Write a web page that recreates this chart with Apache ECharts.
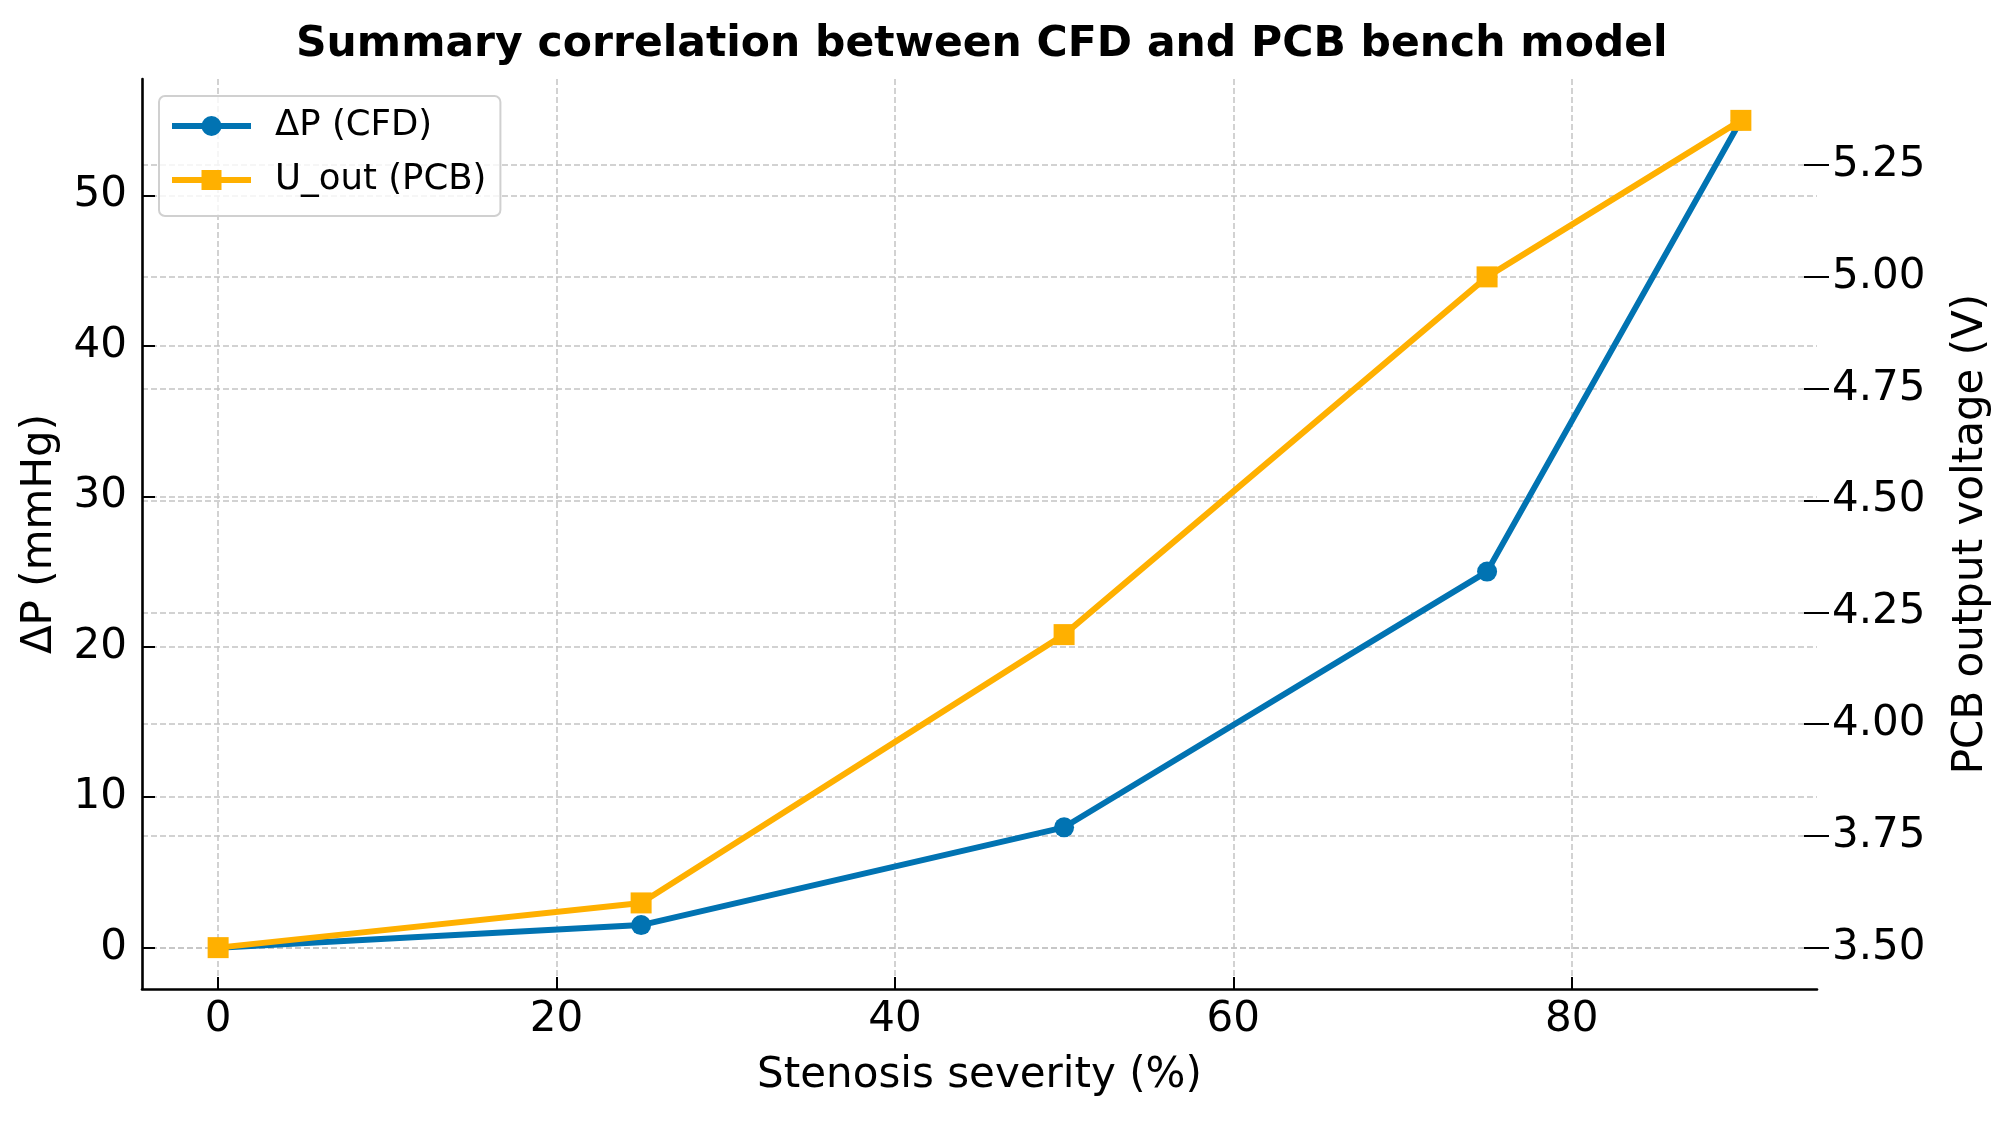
<!DOCTYPE html>
<html>
<head>
<meta charset="utf-8">
<script src="https://cdn.jsdelivr.net/npm/echarts@6/dist/echarts.min.js"></script>
<style>
html, body { margin: 0; padding: 0; background: #ffffff; }
#chart { width: 2002px; height: 1122px; }
</style>
</head>
<body>
<div id="chart"></div>
<script>
// ---- data ----
const stenosis = [0, 25, 50, 75, 90];
const deltaP = [0, 1.5, 8, 25, 55];
const uOut = [3.5, 3.6, 4.2, 5.0, 5.35];
const xTicks = [0, 20, 40, 60, 80];
const leftTicks = [0, 10, 20, 30, 40, 50];
const rightTicks = [3.5, 3.75, 4.0, 4.25, 4.5, 4.75, 5.0, 5.25];
const seriesNames = ['ΔP (CFD)', 'U_out (PCB)'];

const FONT = 'DejaVu Sans';
const BLUE = '#0173B2';
const ORANGE = '#FFB000';
const GRIDC = '#c4c4c4';

function pad(lo, hi) { const m = (hi - lo) * 0.05; return [lo - m, hi + m]; }
const xr = pad(Math.min(...stenosis), Math.max(...stenosis));
const lr = pad(Math.min(...deltaP), Math.max(...deltaP));
const rr = pad(Math.min(...uOut), Math.max(...uOut));

const split = { show: true, lineStyle: { color: GRIDC, width: 1.5, type: [6, 3] } };

const chart = echarts.init(document.getElementById('chart'), null, { renderer: 'canvas' });
chart.setOption({
  animation: false,
  backgroundColor: '#ffffff',
  textStyle: { fontFamily: FONT },
  title: {
    text: 'Summary correlation between CFD and PCB bench model',
    left: 296, top: 24, padding: 0,
    textStyle: { fontFamily: FONT, fontWeight: 'bold', fontSize: 42.5, lineHeight: 42, color: '#000' }
  },
  legend: {
    orient: 'vertical', left: 159, top: 96,
    padding: [10, 14, 16, 10],
    itemWidth: 79, itemHeight: 25, itemGap: 14,
    backgroundColor: 'rgba(255,255,255,0.8)',
    borderColor: '#d0d0d0', borderWidth: 2, borderRadius: 6,
    lineStyle: { width: 6 },
    textStyle: { fontFamily: FONT, fontSize: 35.5, lineHeight: 40, color: '#000', padding: [0, 0, 0, 19] },
    data: seriesNames
  },
  grid: { left: 142, right: 185, top: 79, bottom: 133, containLabel: false, outerBoundsMode: 'none' },
  xAxis: {
    type: 'value', min: xr[0], max: xr[1],
    name: 'Stenosis severity (%)', nameLocation: 'middle', nameGap: 66,
    nameTextStyle: { fontFamily: FONT, fontSize: 42, lineHeight: 42, color: '#000' },
    axisLine: { show: true, onZero: false, lineStyle: { color: '#000', width: 2.6 } },
    axisTick: { show: true, inside: true, length: 12, lineStyle: { color: '#000', width: 2 }, customValues: xTicks },
    axisLabel: { show: true, margin: 10, fontFamily: FONT, fontSize: 42, color: '#000', customValues: xTicks },
    splitLine: split
  },
  yAxis: [
    {
      type: 'value', position: 'left', min: lr[0], max: lr[1],
      name: 'ΔP (mmHg)', nameLocation: 'middle', nameGap: 81, nameRotate: 90,
      nameTextStyle: { fontFamily: FONT, fontSize: 42, lineHeight: 42, color: '#000' },
      axisLine: { show: true, onZero: false, lineStyle: { color: '#000', width: 2.6 } },
      axisTick: { show: true, inside: true, length: 13, lineStyle: { color: '#000', width: 2 }, customValues: leftTicks },
      axisLabel: { show: true, margin: 15, fontFamily: FONT, fontSize: 42, color: '#000', customValues: leftTicks },
      splitLine: split
    },
    {
      type: 'value', position: 'right', min: rr[0], max: rr[1],
      name: 'PCB output voltage (V)', nameLocation: 'middle', nameGap: 133, nameRotate: 90,
      nameTextStyle: { fontFamily: FONT, fontSize: 42, lineHeight: 42, color: '#000' },
      axisLine: { show: false, onZero: false },
      axisTick: { show: true, inside: false, length: 12, lineStyle: { color: '#000', width: 2 }, customValues: rightTicks },
      axisLabel: { show: true, margin: 15, fontFamily: FONT, fontSize: 42, color: '#000', customValues: rightTicks,
                   formatter: v => v.toFixed(2) },
      splitLine: split
    },
    {
      type: 'value', position: 'right', min: rr[0], max: rr[1],
      axisLine: { show: false, onZero: false },
      axisTick: { show: true, inside: true, length: 13, lineStyle: { color: '#000', width: 2 }, customValues: rightTicks },
      axisLabel: { show: false, customValues: rightTicks },
      splitLine: { show: false }
    }
  ],
  series: [
    {
      name: seriesNames[0], type: 'line', yAxisIndex: 0,
      data: stenosis.map((x, i) => [x, deltaP[i]]),
      symbol: 'circle', symbolSize: 20,
      lineStyle: { color: BLUE, width: 6 },
      itemStyle: { color: BLUE },
      z: 3
    },
    {
      name: seriesNames[1], type: 'line', yAxisIndex: 1,
      data: stenosis.map((x, i) => [x, uOut[i]]),
      symbol: 'rect', symbolSize: 21,
      lineStyle: { color: ORANGE, width: 6 },
      itemStyle: { color: ORANGE },
      z: 4
    }
  ]
});
</script>
</body>
</html>
